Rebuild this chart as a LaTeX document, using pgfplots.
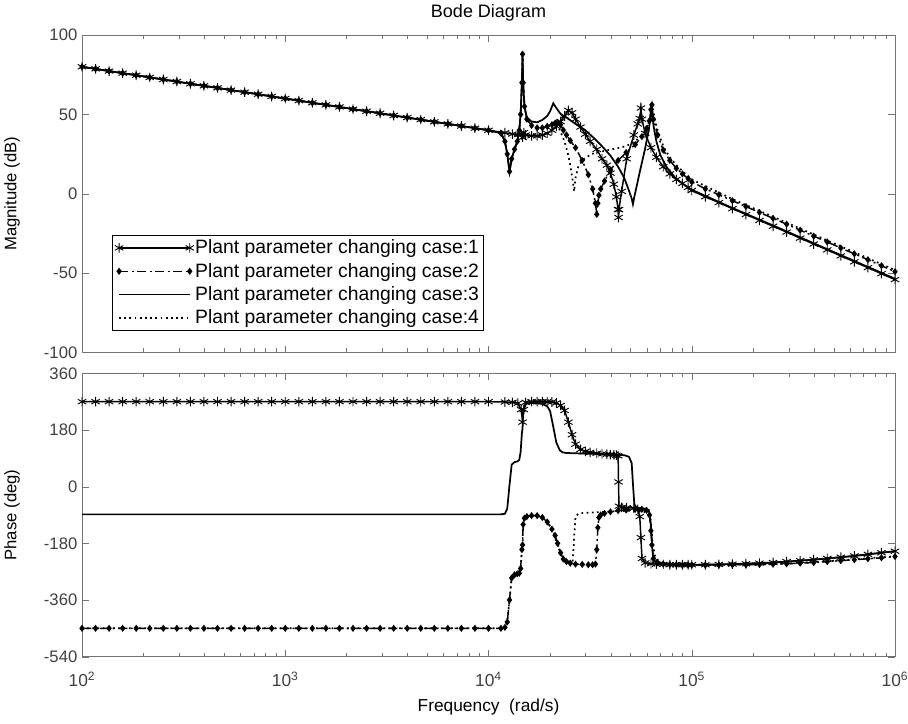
\documentclass[border=0pt]{standalone}
\usepackage{fontspec}
\setmainfont{Liberation Sans}
\usepackage{pgfplots}
\usepackage{pgfplotstable}
\pgfplotsset{compat=1.18}

\tikzset{
  c1/.style={black, line width=1.1pt, mark=asterisk, mark size=3.6pt, mark options={solid, line width=0.7pt}},
  c2/.style={black, line width=1.1pt, dash pattern=on 7pt off 2.5pt on 1.5pt off 2.5pt, mark=diamond*, mark size=1.8pt, mark options={solid}},
  c3/.style={black, line width=1.3pt},
  c4/.style={black, line width=1.3pt, dash pattern=on 1.3pt off 2.6pt},
}
\pgfplotsset{
  every axis/.append style={
    scale only axis, width=609.75pt,
    xmin=100, xmax=1000000,
    xtick={100,1000,10000,100000,1000000},
    minor xtick={200,300,400,500,600,700,800,900,
      2000,3000,4000,5000,6000,7000,8000,9000,
      20000,30000,40000,50000,60000,70000,80000,90000,
      200000,300000,400000,500000,600000,700000,800000,900000},
    tick align=inside, tick pos=both,
    major tick length=5pt, minor tick length=3pt,
    axis line style={black!55}, tick style={black!55},
    tick label style={font=\fontsize{12.5}{14}\selectfont, text=black!75},
    xticklabel style={font=\fontsize{13}{15}\selectfont, yshift=-8pt},
    /pgf/number format/assume math mode=true,
    ylabel style={font=\fontsize{12.5}{14}\selectfont, anchor=center},
  },
}

\begin{document}
% f  mag(dB)  phase(deg)
\pgfplotstableread{
f m p
100 80.0 270
116.6 78.7 270
135.9 77.3 270
158.5 76.0 270
184.8 74.7 270
215.4 73.3 270
251.2 72.0 270
292.9 70.7 270
341.5 69.3 270
398.1 68.0 270
464.2 66.7 270
541.2 65.3 270
631.0 64.0 270
735.6 62.7 270
857.7 61.3 270
1000 60.0 270
1166 58.7 270
1359 57.3 270
1585 56.0 270
1848 54.7 270
2154 53.3 270
2512 52.0 270
2929 50.7 270
3415 49.3 270
3981 48.0 270
4642 46.7 270
5412 45.3 270
6310 44.0 270
7356 42.7 270
8577 41.3 270
10000 40.0 270
12045 38.4 269
13110 37.6 268
13960 37.2 265
14495 37.0 245
14704 35.5 205
14915 38.5 245
15235 37.0 268
16293 36.5 270
17351 36.5 270
18408 37.0 270
19461 38.0 270
20516 40.0 269
21568 42.5 266
22621 45.5 258
23665 49.0 242
24713 52.5 205
25763 51.0 165
26804 47.0 135
28370 42.0 118
29941 37.5 112
31606 33.0 109
34094 28.0 106
36175 22.0 104
38249 18.0 103
39802 13.0 102
41352 6.0 101
42588 -2.0 100
43420 -10.0 98
43621 -15.0 15
43832 -10.0 -62
45174 1.5 -66
47851 22.0 -67
51870 37.0 -68
54233 44.0 -72
55500 47.5 -95
56200 54.0 -162
56900 47.0 -228
59000 38.0 -242
63000 29.0 -245
67000 23.0 -246
72400 17.0 -247
78000 12.5 -248
84000 9.0 -248
90000 6.5 -248
96000 4.0 -248
100000 2.0 -248
116600 -1.9 -248
135900 -5.6 -247
158500 -9.4 -246
184800 -13.1 -245
215400 -16.8 -243
251200 -20.5 -241
292900 -24.2 -238
341500 -28.0 -235
398100 -31.7 -232
464200 -35.4 -228
541200 -39.2 -224
631000 -42.9 -220
735600 -46.6 -215
857700 -50.4 -210
1000000 -54.1 -205
}\caseone

\pgfplotstableread{
f m p
100 80.0 -450
116.6 78.7 -450
135.9 77.3 -450
158.5 76.0 -450
184.8 74.7 -450
215.4 73.3 -450
251.2 72.0 -450
292.9 70.7 -450
341.5 69.3 -450
398.1 68.0 -450
464.2 66.7 -450
541.2 65.3 -450
631.0 64.0 -450
735.6 62.7 -450
857.7 61.3 -450
1000 60.0 -450
1166 58.7 -450
1359 57.3 -450
1585 56.0 -450
1848 54.7 -450
2154 53.3 -450
2512 52.0 -450
2929 50.7 -450
3415 49.3 -450
3981 48.0 -450
4642 46.7 -450
5412 45.3 -450
6310 44.0 -450
7356 42.7 -450
8577 41.3 -450
10000 40.0 -450
11510 38.2 -450
12045 33.0 -447
12365 25.0 -430
12685 14.0 -360
13002 22.0 -290
13428 28.0 -280
13855 33.0 -277
14171 40.0 -275
14388 50.0 -260
14599 70.0 -200
14704 88.0 -185
14809 70.0 -120
15025 55.0 -100
15447 47.0 -95
16293 43.0 -92
17351 41.5 -92
18408 41.5 -98
19461 42.5 -112
20516 43.5 -135
21257 44.5 -155
21884 45.0 -180
22621 43.5 -210
23356 40.0 -230
24194 37.0 -238
25242 33.5 -243
26804 29.0 -246
28898 21.0 -247
30979 12.0 -248
32536 3.0 -248
33579 -6.0 -246
34094 -13.0 -200
34514 -6.0 -130
34930 -1.0 -98
35653 3.0 -90
37214 8.0 -85
39802 15.0 -80
43420 21.0 -76
47543 26.0 -74
52693 31.0 -72
56803 36.0 -72
59881 41.0 -75
61927 46.0 -90
62948 53.0 -140
63650 56.0 -185
64800 47.0 -228
68000 37.0 -242
72400 27.5 -246
78000 21.0 -247
84000 16.0 -248
90000 12.5 -249
96000 9.5 -249
100000 7.5 -249
116600 3.1 -249
135900 -0.6 -249
158500 -4.4 -248
184800 -8.1 -248
215400 -11.8 -247
251200 -15.5 -246
292900 -19.2 -245
341500 -23.0 -243
398100 -26.7 -241
464200 -30.4 -238
541200 -34.2 -235
631000 -37.9 -232
735600 -41.6 -229
857700 -45.4 -226
1000000 -49.1 -222
}\casetwo

\pgfplotstableread{
f m p
100 80.0 -88
1000 60.0 -88
10000 40.0 -88
11510 38.2 -88
12045 33.0 -86
12365 25.0 -70
12685 14.0 5
13002 22.0 70
13428 28.0 78
13855 33.0 80
14171 40.0 85
14388 50.0 110
14599 70.0 170
14704 88.0 185
14809 70.0 240
15025 55.0 258
15447 48.0 264
16293 45.5 265
17351 45.0 265
18408 46.5 263
19461 49.0 255
20095 52.0 240
20835 57.0 190
21568 54.0 140
22414 51.0 116
23142 49.0 109
24194 48.0 107
26804 44.0 106
29941 40.0 105
33064 35.0 104
36175 30.0 103
39802 24.0 102
43420 17.0 101
46514 10.0 100
49091 2.0 95
50630 -3.0 75
51347 -6.6 10
52170 -2.0 -55
53206 3.0 -66
55779 15.0 -68
58855 28.0 -70
61416 40.0 -74
62428 47.0 -95
63240 52.0 -140
63650 54.5 -175
64300 47.0 -215
65000 42.0 -232
67000 33.0 -242
70000 24.5 -245
75000 17.0 -247
83000 10.0 -248
93000 5.0 -248
100000 2.5 -248
158500 -9.0 -246
251200 -20.0 -241
398100 -31.2 -232
631000 -42.4 -220
1000000 -53.6 -205
}\casethree

\pgfplotstableread{
f m p
100 80.0 -450
1000 60.0 -450
10000 40.0 -450
11510 38.2 -450
12045 33.0 -447
12365 25.0 -430
12685 14.0 -360
13002 22.0 -290
13428 28.0 -280
13855 33.0 -277
14171 40.0 -275
14388 50.0 -260
14599 70.0 -200
14704 88.0 -185
14809 70.0 -120
15025 55.0 -100
15447 47.0 -95
16293 43.0 -92
17351 41.5 -92
18408 41.5 -98
19461 42.5 -112
20516 43.5 -135
21884 43.0 -185
22621 39.0 -212
23665 33.0 -232
24713 24.0 -238
25242 18.0 -240
25971 8.0 -235
26387 1.5 -160
26804 10.0 -95
27643 17.0 -86
28898 21.0 -84
32016 25.0 -82
37214 27.0 -80
42393 28.5 -78
47543 30.0 -77
52693 33.0 -76
57833 38.0 -78
61416 45.0 -88
62948 50.0 -110
63940 57.0 -170
66000 46.0 -222
69000 37.0 -238
73000 29.0 -245
78000 23.0 -247
84000 18.0 -248
93000 12.5 -249
100000 9.0 -249
158500 -3.4 -248
251200 -14.5 -246
398100 -25.7 -240
631000 -36.9 -231
1000000 -48.1 -221
}\casefour

\begin{tikzpicture}
\path[use as bounding box] (0,0) rectangle (681pt,543pt);

% magnitude
\begin{semilogxaxis}[
  at={(61.5pt,278.7pt)}, anchor=south west, height=238pt,
  ymin=-100, ymax=100, ytick={-100,-50,0,50,100},
  xticklabels={},
  ylabel={Magnitude (dB)},
  ylabel style={at={(axis description cs:-0.0861,0.5)}},
  title={Bode Diagram},
  title style={at={(axis description cs:0.5,1.045)}, anchor=center, font=\fontsize{13.5}{15}\selectfont},
  legend image code/.code={\draw[#1] plot coordinates {(0pt,0pt) (53pt,0pt)};},
  legend style={at={(axis description cs:0.0369,0.370)}, anchor=north west,
    draw=black, fill=white, font=\fontsize{14.5}{16}\selectfont,
    inner xsep=2pt, inner ysep=1.5pt, row sep=1.5pt,
    nodes={inner xsep=1pt}},
  legend cell align=left,
]
\addplot[c1] table[x=f, y=m] {\caseone};
\addplot[c2] table[x=f, y=m] {\casetwo};
\addplot[c3] table[x=f, y=m] {\casethree};
\addplot[c4] table[x=f, y=m] {\casefour};
\legend{Plant parameter changing case:1, Plant parameter changing case:2, Plant parameter changing case:3, Plant parameter changing case:4}
\end{semilogxaxis}

% phase
\begin{semilogxaxis}[
  at={(61.5pt,50.5pt)}, anchor=south west, height=212.5pt,
  ymin=-540, ymax=360, ytick={-540,-360,-180,0,180,360},
  xticklabels={10\textsuperscript{2},10\textsuperscript{3},10\textsuperscript{4},10\textsuperscript{5},10\textsuperscript{6}},
  ylabel={Phase (deg)},
  ylabel style={at={(axis description cs:-0.0861,0.5)}},
  xlabel={Frequency\ \ (rad/s)},
  xlabel style={at={(axis description cs:0.5,-0.1765)}, anchor=center, font=\fontsize{13}{15}\selectfont},
]
\addplot[c1] table[x=f, y=p] {\caseone};
\addplot[c2] table[x=f, y=p] {\casetwo};
\addplot[c3] table[x=f, y=p] {\casethree};
\addplot[c4] table[x=f, y=p] {\casefour};
\end{semilogxaxis}
\end{tikzpicture}
\end{document}
